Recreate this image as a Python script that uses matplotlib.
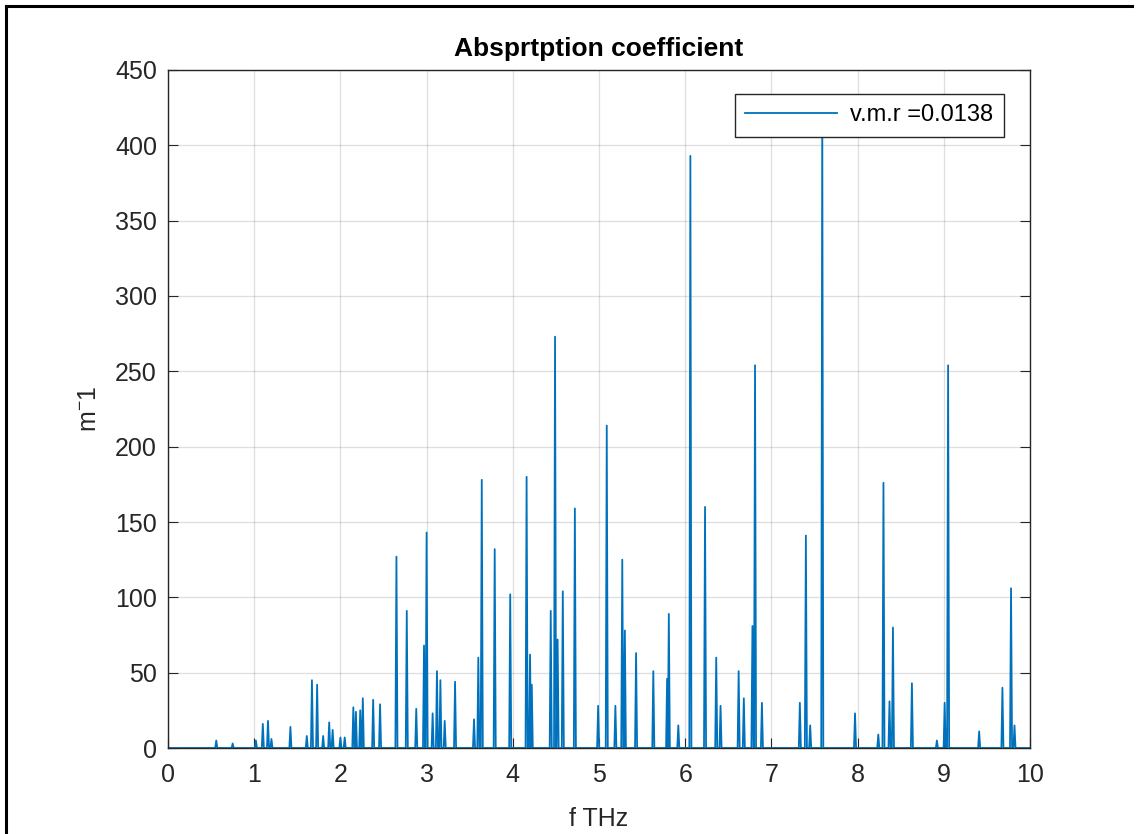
import numpy as np
import matplotlib.pyplot as plt
from matplotlib.lines import Line2D

plt.rcParams['font.family'] = ['Liberation Sans', 'DejaVu Sans']
plt.rcParams['mathtext.fontset'] = 'custom'
plt.rcParams['mathtext.rm'] = 'Liberation Sans'
plt.rcParams['mathtext.it'] = 'Liberation Sans'

# peak positions (THz) and heights (m^-1)
peak_f = [0.56, 0.75, 1.02, 1.10, 1.16, 1.20, 1.42, 1.61, 1.67, 1.73, 1.80, 1.87, 1.91,
          2.00, 2.05, 2.15, 2.18, 2.23, 2.26, 2.38, 2.46, 2.65, 2.77, 2.88, 2.97, 3.00,
          3.07, 3.12, 3.16, 3.21, 3.33, 3.55, 3.60, 3.64, 3.79, 3.97, 4.16, 4.20, 4.22,
          4.44, 4.49, 4.52, 4.58, 4.72, 4.99, 5.09, 5.19, 5.27, 5.30, 5.43, 5.63, 5.79,
          5.81, 5.92, 6.06, 6.23, 6.36, 6.41, 6.62, 6.68, 6.78, 6.81, 6.89, 7.33, 7.40,
          7.45, 7.59, 7.97, 8.24, 8.30, 8.37, 8.41, 8.63, 8.92, 9.01, 9.05, 9.41, 9.68,
          9.78, 9.82]
peak_h = [5, 3, 5, 16, 18, 6, 14, 8, 45, 42, 8, 17, 12,
          7, 7, 27, 24, 25, 33, 32, 29, 127, 91, 26, 68, 143,
          23, 51, 45, 18, 44, 19, 60, 178, 132, 102, 180, 62, 42,
          91, 273, 72, 104, 159, 28, 214, 28, 125, 78, 63, 51, 46,
          89, 15, 393, 160, 60, 28, 51, 33, 81, 254, 30, 30, 141,
          15, 425, 23, 9, 176, 31, 80, 43, 5, 30, 254, 11, 40,
          106, 15]

# build spike polyline: baseline, up to each peak, back to baseline
w = 0.012
xs = [0.0]
ys = [0.0]
for f, h in sorted(zip(peak_f, peak_h)):
    xs += [f - w, f, f + w]
    ys += [0.0, h, 0.0]
xs.append(10.0)
ys.append(0.0)

fig = plt.figure(figsize=(11.36, 8.34), dpi=100)
ax = fig.add_axes([168 / 1136, 1 - 748 / 834, 862 / 1136, 678 / 834])

ax.plot(xs, ys, color='#0072BD', lw=1.3, label='v.m.r =0.0138')

ax.set_xlim(0, 10)
ax.set_ylim(0, 450)
ax.set_xticks(np.arange(0, 11, 1))
ax.set_yticks(np.arange(0, 451, 50))
ax.grid(True, color='#262626', alpha=0.15, lw=0.9)
ax.tick_params(direction='in', length=7, labelsize=18, colors='#262626',
               top=False, right=True)
ax.tick_params(axis='x', pad=11)
ax.tick_params(axis='y', pad=8)
for s in ax.spines.values():
    s.set_color('#262626')
    s.set_linewidth(1.0)

ax.set_title('Absprtption coefficient', fontsize=19, fontweight='bold', color='black', pad=10)
ax.set_xlabel('f THz', fontsize=18, color='#262626', labelpad=14)
ax.set_ylabel(r'm$^{-}$1', fontsize=18, color='#262626', labelpad=10)

leg = ax.legend(loc='upper right', fontsize=17, fancybox=False, framealpha=1,
                edgecolor='#262626', borderpad=0.45, handlelength=3.9,
                handletextpad=0.55, borderaxespad=0,
                bbox_to_anchor=(0.970, 0.965))
leg.get_frame().set_linewidth(1.0)
leg.set_zorder(10)

# outer black frame (left and top only, as in the screenshot)
fig.add_artist(Line2D([6 / 1136, 6 / 1136], [0, 1 - 6 / 834], color='black', lw=2.2,
                      transform=fig.transFigure))
fig.add_artist(Line2D([6 / 1136, 1132 / 1136], [1 - 6 / 834, 1 - 6 / 834], color='black',
                      lw=2.2, transform=fig.transFigure))

fig.savefig('out.png', dpi=100)
